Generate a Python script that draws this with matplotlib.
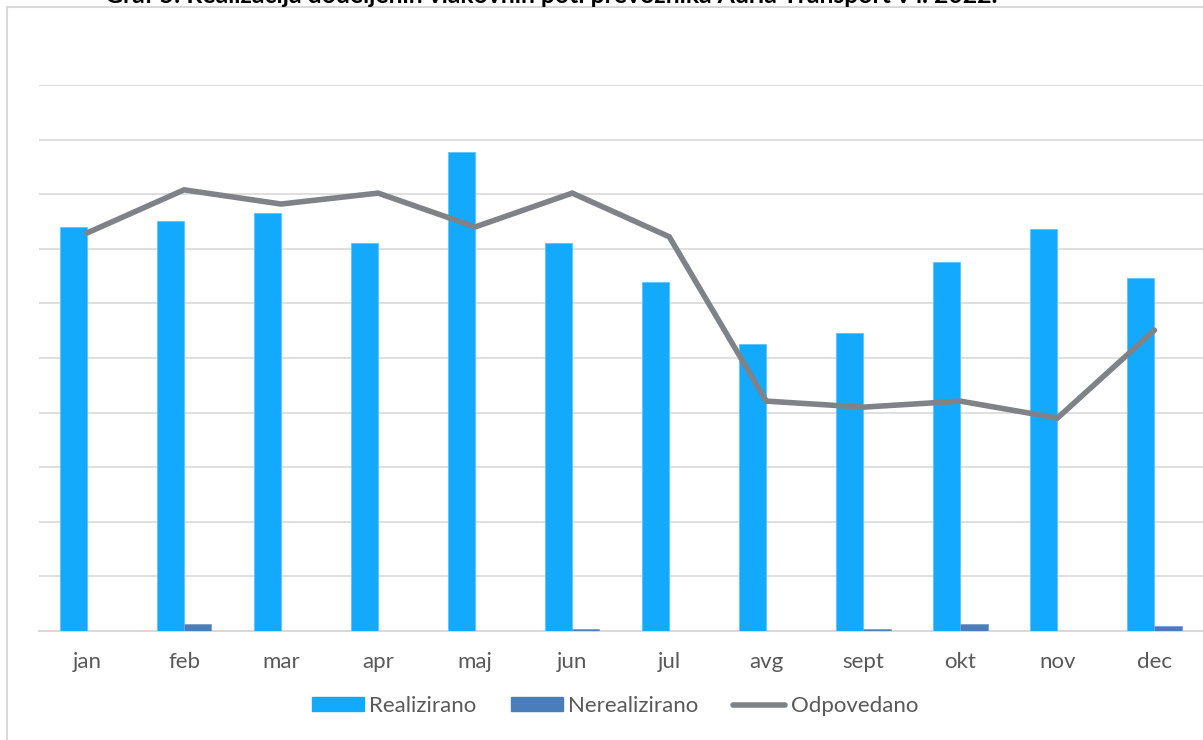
import matplotlib
matplotlib.use("Agg")
import matplotlib.pyplot as plt
import numpy as np
from matplotlib.patches import Rectangle
from matplotlib.lines import Line2D

months = ["jan", "feb", "mar", "apr", "maj", "jun", "jul", "avg", "sept", "okt", "nov", "dec"]
realizirano = [7.40, 7.51, 7.66, 7.11, 8.77, 7.11, 6.39, 5.26, 5.46, 6.76, 7.36, 6.47]
nerealizirano = [0.0, 0.13, 0.0, 0.0, 0.0, 0.04, 0.0, 0.0, 0.04, 0.13, 0.0, 0.09]
odpovedano = [7.29, 8.08, 7.82, 8.02, 7.40, 8.02, 7.22, 4.21, 4.10, 4.21, 3.90, 5.51]
title = "Graf 5: Realizacija dodeljenih vlakovnih poti prevoznika Adria Transport v l. 2022."

c_real = "#13A9FD"
c_nereal = "#4A7EBB"
c_line = "#7F8388"
c_grid = "#D9D9D9"
c_text = "#595959"
font = ["Lato", "DejaVu Sans"]

W, H = 1203, 740
fig = plt.figure(figsize=(W / 100, H / 100), dpi=100)

# chart border
fig.patches.append(Rectangle((7 / W, -0.01), 1.0, 1 - 7.5 / H + 0.01, transform=fig.transFigure,
                             fill=False, edgecolor=c_grid, linewidth=1.5))

fig.text(105 / W, 1 - 3 / H, title, fontsize=17.8, fontweight="bold", family=font,
         color="black", ha="left", va="baseline")

ax = fig.add_axes([38.5 / W, (H - 631) / H, (W - 38.5) / W, (631 - 85) / H])
x = np.arange(len(months))
bw = 0.28
ax.bar(x - bw / 2, realizirano, width=bw, color=c_real, edgecolor="#5CC4FE", linewidth=0.6, zorder=3)
ax.bar(x + bw / 2, nerealizirano, width=bw, color=c_nereal, edgecolor="#7A9FD0", linewidth=0.6, zorder=3)
ax.plot(x, odpovedano, color=c_line, linewidth=4, solid_capstyle="round", solid_joinstyle="miter", zorder=4)

ax.set_xlim(-0.5, len(months) - 0.5)
ax.set_ylim(0, 10)
ax.set_yticks(np.arange(0, 11, 1))
ax.set_yticklabels([])
ax.tick_params(axis="y", length=0)
ax.grid(axis="y", color=c_grid, linewidth=1.2, zorder=0)
ax.set_axisbelow(True)
for s in ["top", "right", "left"]:
    ax.spines[s].set_visible(False)
ax.spines["bottom"].set_color(c_grid)
ax.spines["bottom"].set_linewidth(1.5)
ax.set_xticks(x)
ax.set_xticklabels(months, family=font, fontsize=16, color=c_text)
ax.tick_params(axis="x", length=0, pad=15)

handles = [Rectangle((0, 0), 1, 1, color=c_real),
           Rectangle((0, 0), 1, 1, color=c_nereal),
           Line2D([0], [0], color=c_line, linewidth=4, solid_capstyle="round")]
leg = fig.legend(handles, ["Realizirano", "Nerealizirano", "Odpovedano"],
                 loc="center", bbox_to_anchor=(615 / W, 1 - 706 / H), ncol=3, frameon=False,
                 prop={"family": font, "size": 16}, handlelength=2.35, handleheight=0.6,
                 handletextpad=0.23, columnspacing=1.55)
for t in leg.get_texts():
    t.set_color(c_text)

fig.savefig("out.png", dpi=100)
